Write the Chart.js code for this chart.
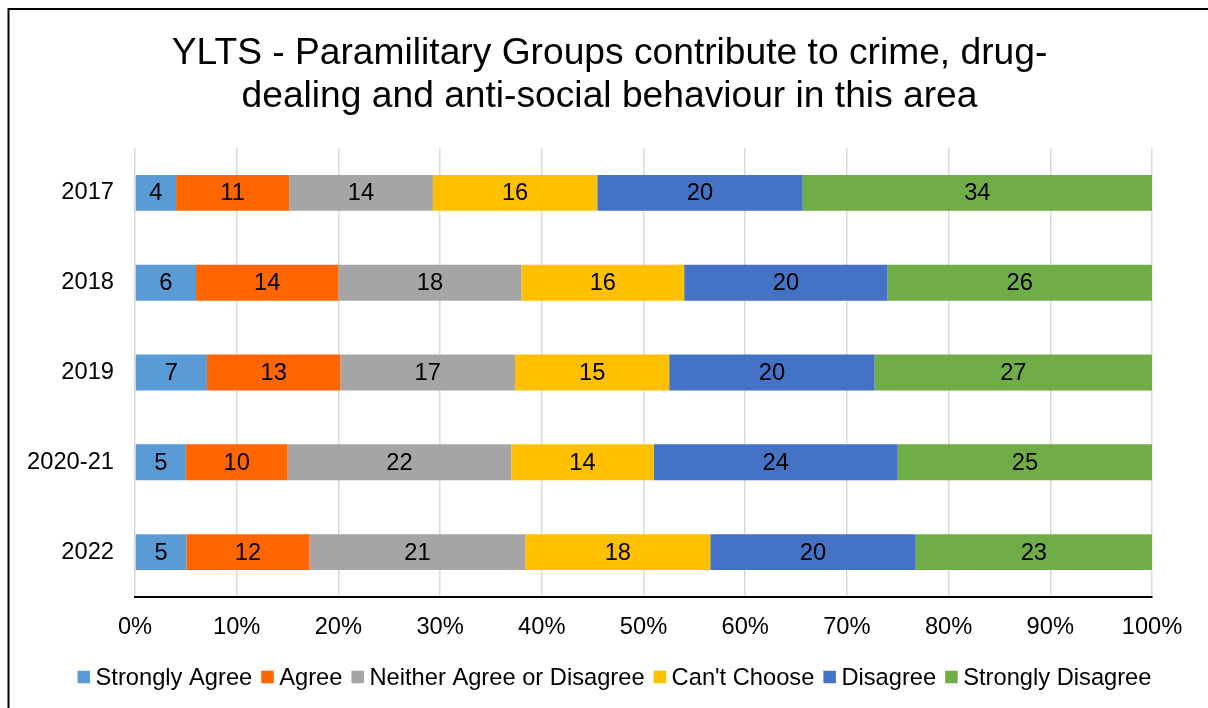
<!DOCTYPE html>
<html>
<head>
<meta charset="utf-8">
<script src="https://cdn.jsdelivr.net/npm/chart.js@4/dist/chart.umd.min.js"></script>
<style>
  html, body { margin: 0; padding: 0; background: #fff; }
  #wrap { width: 1208px; height: 708px; position: relative; }
</style>
</head>
<body>
<div id="wrap"><canvas id="chart" width="1208" height="708"></canvas></div>
<script>
// survey years
const categories = ['2017', '2018', '2019', '2020-21', '2022'];

// percentages per answer, as printed on the bars
const stronglyAgree    = [4, 6, 7, 5, 5];
const agree            = [11, 14, 13, 10, 12];
const neither          = [14, 18, 17, 22, 21];
const cantChoose       = [16, 16, 15, 14, 18];
const disagree         = [20, 20, 20, 24, 20];
const stronglyDisagree = [34, 26, 27, 25, 23];

const seriesNames  = ['Strongly Agree', 'Agree', 'Neither Agree or Disagree', "Can't Choose", 'Disagree', 'Strongly Disagree'];
const seriesValues = [stronglyAgree, agree, neither, cantChoose, disagree, stronglyDisagree];
const seriesColors = ['#5B9BD5', '#FF6600', '#A5A5A5', '#FFC000', '#4472C4', '#70AD47'];

const xTicks = [0, 10, 20, 30, 40, 50, 60, 70, 80, 90, 100];

const titleLines = ['YLTS - Paramilitary Groups contribute to crime, drug-', 'dealing and anti-social behaviour in this area'];

const FONT = '"Liberation Sans", Arial, sans-serif';
const FS = 23.7;

// 100% stacked: each row is scaled to its own total
const totals = categories.map((c, j) => seriesValues.reduce((s, arr) => s + arr[j], 0));

const datasets = seriesNames.map((name, i) => ({
  label: name,
  counts: seriesValues[i],
  data: seriesValues[i].map((v, j) => v / totals[j] * 100),
  backgroundColor: seriesColors[i],
  borderWidth: 0,
  categoryPercentage: 1,
  barPercentage: 0.4
}));

const frame = {
  id: 'frame',
  beforeDraw(chart) {
    const ctx = chart.ctx;
    ctx.save();
    ctx.strokeStyle = '#000';
    ctx.lineWidth = 2;
    ctx.strokeRect(8.5, 9, 2000, 2000);
    // title, centred on the frame rather than the plot
    ctx.fillStyle = '#000';
    ctx.font = '37.2px ' + FONT;
    ctx.textAlign = 'center';
    ctx.textBaseline = 'alphabetic';
    ctx.fillText(titleLines[0], 609.5, 63.5);
    ctx.fillText(titleLines[1], 609.5, 107);
    ctx.restore();
  }
};

const barLabels = {
  id: 'barLabels',
  afterDatasetsDraw(chart) {
    const ctx = chart.ctx;
    ctx.save();
    ctx.font = FS + 'px ' + FONT;
    ctx.fillStyle = '#000';
    ctx.textAlign = 'center';
    ctx.textBaseline = 'middle';
    chart.data.datasets.forEach((ds, i) => {
      chart.getDatasetMeta(i).data.forEach((bar, j) => {
        ctx.fillText(String(ds.counts[j]), (bar.x + bar.base) / 2, bar.y + 1);
      });
    });
    ctx.restore();
  }
};

const legendRow = {
  id: 'legendRow',
  afterDraw(chart) {
    const ctx = chart.ctx;
    ctx.save();
    ctx.font = FS + 'px ' + FONT;
    ctx.textBaseline = 'middle';
    ctx.textAlign = 'left';
    const box = 12.5, gap = 5.5, space = 9, cy = 677;
    const items = chart.data.datasets.map(ds => ({
      label: ds.label, color: ds.backgroundColor, w: ctx.measureText(ds.label).width
    }));
    const total = items.reduce((s, it) => s + box + gap + it.w, 0) + space * (items.length - 1);
    let x = 614.5 - total / 2;
    items.forEach(it => {
      ctx.fillStyle = it.color;
      ctx.fillRect(x, cy - box / 2, box, box);
      x += box + gap;
      ctx.fillStyle = '#000';
      ctx.fillText(it.label, x, cy + 1);
      x += it.w + space;
    });
    ctx.restore();
  }
};

new Chart(document.getElementById('chart'), {
  type: 'bar',
  data: { labels: categories, datasets: datasets },
  plugins: [frame, barLabels, legendRow],
  options: {
    indexAxis: 'y',
    responsive: false,
    animation: false,
    layout: { padding: { left: 0, right: 56, top: 148, bottom: 61 } },
    plugins: {
      legend: { display: false },
      tooltip: { enabled: false },
      title: { display: false }
    },
    scales: {
      x: {
        stacked: true,
        min: 0,
        max: 100,
        afterBuildTicks(scale) { scale.ticks = xTicks.map(v => ({ value: v })); },
        afterFit(scale) { scale.height = 50; },
        ticks: {
          color: '#000',
          padding: 16,
          font: { family: FONT, size: FS },
          callback: v => v + '%'
        },
        grid: { color: '#d9d9d9', lineWidth: 1.5, drawTicks: false },
        border: { display: true, color: '#000', width: 2 }
      },
      y: {
        stacked: true,
        afterFit(scale) { scale.width = 135; },
        ticks: {
          color: '#000',
          padding: 21,
          font: { family: FONT, size: FS }
        },
        grid: { display: false, drawTicks: false },
        border: { display: false }
      }
    }
  }
});
</script>
</body>
</html>
